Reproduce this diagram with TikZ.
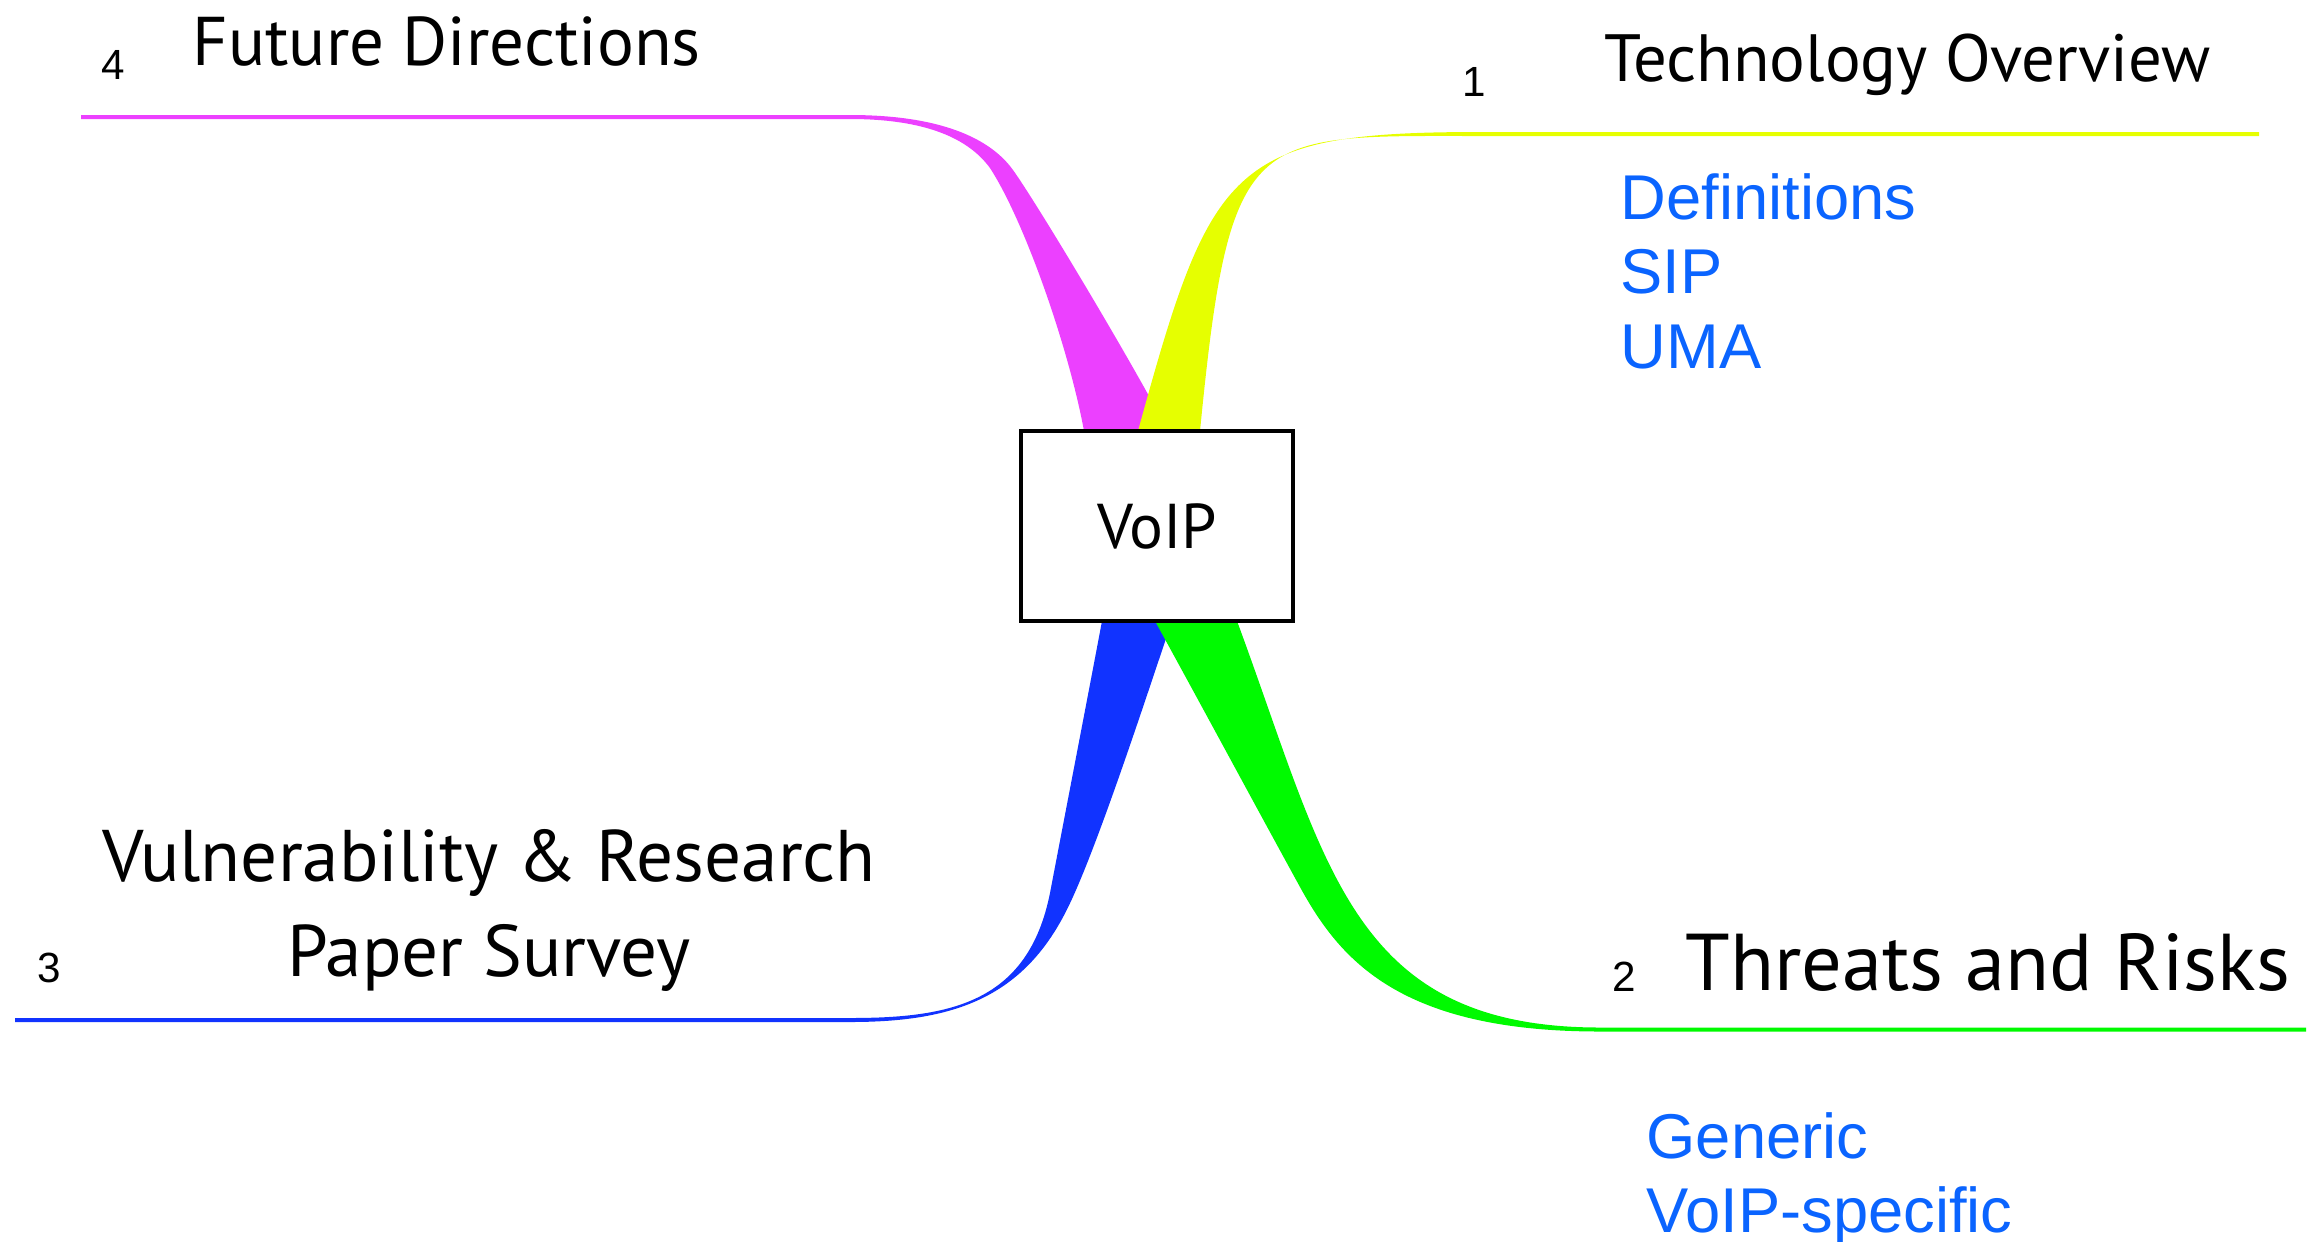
\documentclass[tikz,border=0pt]{standalone}
\usepackage{fontspec}
\setmainfont{PT Sans}
\newfontfamily\arialfont{Liberation Sans}
\definecolor{branchMagenta}{RGB}{236,64,255}
\definecolor{branchYellow}{RGB}{230,255,0}
\definecolor{branchBlue}{RGB}{17,51,255}
\definecolor{branchGreen}{RGB}{0,250,0}
\definecolor{leafBlue}{RGB}{10,100,255}
\begin{document}
\begin{tikzpicture}[x=0.01cm,y=-0.01cm,
  topic/.style={inner sep=0pt,anchor=base west,font=\fontsize{19.6}{24}\selectfont},
  bignum/.style={inner sep=0pt,font=\arialfont\fontsize{12}{14}\selectfont},
  leaf/.style={inner sep=0pt,anchor=base west,text=leafBlue,font=\arialfont\fontsize{18}{21}\selectfont},
  hub/.style={draw=black,line width=1.15pt,fill=white,minimum width=2.72cm,
    minimum height=1.9cm,inner sep=0pt,font=\fontsize{18}{21}\selectfont}]

\useasboundingbox (0,0) rectangle (2311,1241);

% branch 4 (upper left): top edge of the line becomes the outer side of the bend
\fill[branchMagenta] (81,115) -- (850,115)
  .. controls (940,115) and (990,138) .. (1013,170)
  .. controls (1036,202) and (1128,355) .. (1168,431) -- (1175,445)
  -- (1086.5,445) -- (1084,431)
  .. controls (1069,349) and (1025,222) .. (990,168)
  .. controls (968,138) and (925,119) .. (850,119) -- (81,119) -- cycle;

% branch 1 (upper right)
\fill[branchYellow] (2259,132) -- (1480,132)
  .. controls (1230,132) and (1211,165) .. (1138,431) -- (1134,445)
  -- (1199,445) -- (1200,431)
  .. controls (1230,126) and (1250,136) .. (1480,136) -- (2259,136) -- cycle;

% branch 3 (lower left)
\fill[branchBlue] (15,1018) -- (850,1018)
  .. controls (950,1018) and (1028,1003) .. (1050,893)
  .. controls (1062,830) and (1090,685) .. (1102,621) -- (1104,608)
  -- (1177,608) -- (1172,621)
  .. controls (1152,679) and (1097,850) .. (1066.7,910)
  .. controls (1021.7,1000) and (950,1022) .. (850,1022) -- (15,1022) -- cycle;

% branch 2 (lower right)
\fill[branchGreen] (2306,1031.5) -- (1600,1031.5)
  .. controls (1400,1031.5) and (1340,960) .. (1300,887)
  .. controls (1255,805) and (1205,712) .. (1155,621) -- (1148,608)
  -- (1232,608) -- (1237,621)
  .. controls (1327,864) and (1350,1027.5) .. (1600,1027.5) -- (2306,1027.5) -- cycle;

% central topic
\node[hub] (hub) at (1157,526) {VoIP};

% branch labels
\node[bignum] (n4) at (113,65) {4};
\node[topic] (t4) at (192,65) {Future Directions};

\node[bignum] (n1) at (1474,82) {1};
\node[topic,font=\fontsize{19}{23}\selectfont] (t1) at (1604,81) {Technology Overview};
\node[leaf] (l1a) at (1620,219.6) {Definitions};
\node[leaf] (l1b) at (1620,293) {SIP};
\node[leaf] (l1c) at (1620,368.5) {UMA};

\node[bignum] (n3) at (49,968) {3};
\node[topic,anchor=base,font=\fontsize{20.8}{25}\selectfont] (t3a) at (489,881) {Vulnerability \& Research};
\node[topic,anchor=base,font=\fontsize{20.8}{25}\selectfont] (t3b) at (489,976) {Paper Survey};

\node[bignum] (n2) at (1624,977) {2};
\node[topic,font=\fontsize{22.9}{27}\selectfont] (t2) at (1685,990.5) {Threats and Risks};
\node[leaf] (l2a) at (1646,1158.5) {Generic};
\node[leaf] (l2b) at (1646,1232) {VoIP-specific};
\end{tikzpicture}
\end{document}
